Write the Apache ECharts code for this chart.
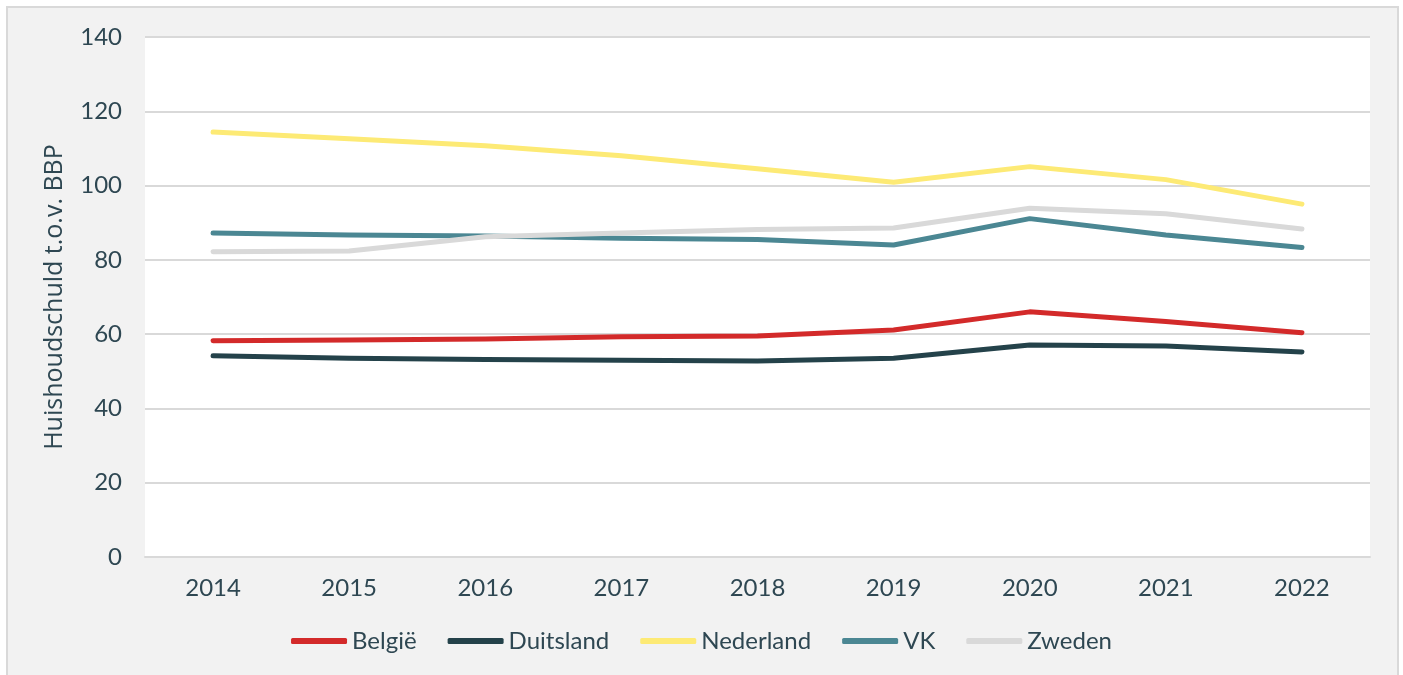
<!DOCTYPE html>
<html>
<head>
<meta charset="utf-8">
<script src="https://cdn.jsdelivr.net/npm/echarts@6/dist/echarts.min.js"></script>
<style>
html,body{margin:0;padding:0;background:#fff;}
#chart{width:1403px;height:675px;}
</style>
</head>
<body>
<div id="chart"></div>
<script>
const categories = ['2014','2015','2016','2017','2018','2019','2020','2021','2022'];
const belgie     = [58.2, 58.4, 58.7, 59.3, 59.5, 61.1, 66.0, 63.4, 60.4];
const duitsland  = [54.2, 53.5, 53.2, 53.0, 52.8, 53.5, 57.1, 56.8, 55.2];
const nederland  = [114.4, 112.6, 110.7, 108.0, 104.5, 100.9, 105.1, 101.6, 95.0];
const vk         = [87.2, 86.7, 86.4, 85.8, 85.5, 84.0, 91.1, 86.7, 83.3];
const zweden     = [82.2, 82.4, 86.2, 87.2, 88.2, 88.6, 93.9, 92.4, 88.3];
const yTicks = {min: 0, max: 140, interval: 20};

const textColor = '#2e4752';
const fontFamily = 'Lato, "Noto Sans", sans-serif';

function mk(name, data, color) {
  return {
    name: name, type: 'line', data: data, symbol: 'none',
    lineStyle: {color: color, width: 5, cap: 'round', join: 'round'},
    itemStyle: {color: color},
    emphasis: {disabled: true}, animation: false
  };
}

const chart = echarts.init(document.getElementById('chart'), null, {renderer: 'canvas'});
chart.setOption({
  animation: false,
  backgroundColor: '#ffffff',
  graphic: [{
    type: 'rect', z: -10, silent: true,
    shape: {x: 7, y: 7, width: 1391, height: 700},
    style: {fill: '#f2f2f2', stroke: '#d9d9d9', lineWidth: 2}
  }],
  grid: {left: 145, right: 33, top: 37, bottom: 118, show: true, backgroundColor: '#ffffff', borderWidth: 0},
  legend: {
    bottom: 17, left: 'center',
    icon: 'roundRect', itemWidth: 56, itemHeight: 6, itemGap: 31,
    textStyle: {color: textColor, fontSize: 24, fontFamily: fontFamily},
    data: ['België','Duitsland','Nederland','VK','Zweden']
  },
  xAxis: {
    type: 'category', data: categories, boundaryGap: true,
    axisLine: {show: true, lineStyle: {color: '#d9d9d9', width: 2}},
    axisTick: {show: false},
    axisLabel: {color: textColor, fontSize: 24, fontFamily: fontFamily, margin: 19}
  },
  yAxis: {
    type: 'value', min: yTicks.min, max: yTicks.max, interval: yTicks.interval,
    name: 'Huishoudschuld t.o.v. BBP', nameLocation: 'middle', nameGap: 78,
    nameTextStyle: {color: textColor, fontSize: 25, fontFamily: '"Open Sans", Lato, sans-serif'},
    axisLine: {show: false}, axisTick: {show: false},
    axisLabel: {color: textColor, fontSize: 24, fontFamily: fontFamily, margin: 23},
    splitLine: {lineStyle: {color: '#d9d9d9', width: 2}}
  },
  series: [
    mk('België', belgie, '#d32a2a'),
    mk('Duitsland', duitsland, '#24424a'),
    mk('Nederland', nederland, '#fdea75'),
    mk('VK', vk, '#4b8793'),
    mk('Zweden', zweden, '#d9d9d9')
  ]
});
</script>
</body>
</html>
